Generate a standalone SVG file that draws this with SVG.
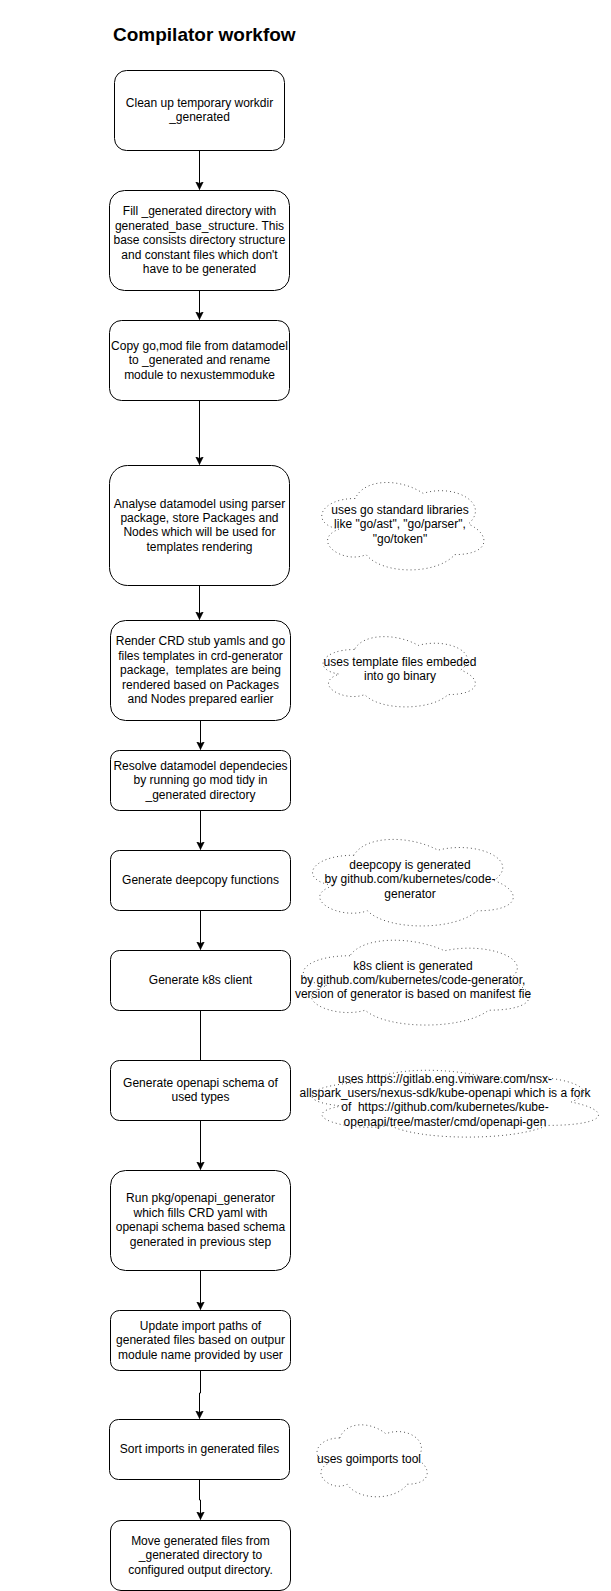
<svg xmlns="http://www.w3.org/2000/svg" width="611" height="1591" viewBox="0 0 611 1591">
<style>
.box{fill:#fff;stroke:#000;stroke-width:1}
.cloud{fill:#fff;stroke:#555;stroke-width:1;stroke-dasharray:1 3}
.t{font-family:"Liberation Sans",Arial,sans-serif;font-size:12px;fill:#000;text-anchor:middle;white-space:pre}
.title{font-family:"Liberation Sans",Arial,sans-serif;font-size:19px;font-weight:bold;fill:#000}
.edge{fill:none;stroke:#000;stroke-width:1}
</style>
<defs>
<marker id="arr" markerUnits="userSpaceOnUse" markerWidth="10" markerHeight="10" refX="8" refY="4" orient="auto">
<path d="M0,0 L8,4 L0,8 L2,4 Z" fill="#000" stroke="#000" stroke-width="0.5"/>
</marker>
</defs>
<rect width="611" height="1591" fill="#fff"/>
<text class="title" x="113" y="41">Compilator workfow</text>

<g id="edges">
<path class="edge" d="M199.5,150.5 V189.5" marker-end="url(#arr)"/>
<path class="edge" d="M199.5,290.5 V319.5" marker-end="url(#arr)"/>
<path class="edge" d="M199.5,400.5 V464.5" marker-end="url(#arr)"/>
<path class="edge" d="M199.5,585.5 V619.5" marker-end="url(#arr)"/>
<path class="edge" d="M200.5,720.5 V749.5" marker-end="url(#arr)"/>
<path class="edge" d="M200.5,810.5 V849.5" marker-end="url(#arr)"/>
<path class="edge" d="M200.5,910.5 V949.5" marker-end="url(#arr)"/>
<path class="edge" d="M200.5,1010.5 V1060.5"/>
<path class="edge" d="M200.5,1120.5 V1169.5" marker-end="url(#arr)"/>
<path class="edge" d="M200.5,1270.5 V1309.5" marker-end="url(#arr)"/>
<path class="edge" d="M200.5,1370.5 V1393 H199.5 V1418.5" marker-end="url(#arr)"/>
<path class="edge" d="M199.5,1479.5 V1500 H200.5 V1519.5" marker-end="url(#arr)"/>
</g>

<g id="n1"><rect class="box" x="114.5" y="70.5" width="170" height="80" rx="12"/>
<text class="t" x="199.5" y="107">Clean up temporary workdir<tspan x="199.5" dy="14.4">_generated</tspan></text></g>

<g id="n2"><rect class="box" x="109.5" y="190.5" width="180" height="100" rx="15"/>
<text class="t" x="199.5" y="215.4">Fill _generated directory with<tspan x="199.5" dy="14.4">generated_base_structure. This</tspan><tspan x="199.5" dy="14.4">base consists directory structure</tspan><tspan x="199.5" dy="14.4">and constant files which don't</tspan><tspan x="199.5" dy="14.4">have to be generated</tspan></text></g>

<g id="n3"><rect class="box" x="109.5" y="320.5" width="180" height="80" rx="12"/>
<text class="t" x="199.5" y="349.8">Copy go,mod file from datamodel<tspan x="199.5" dy="14.4">to _generated and rename</tspan><tspan x="199.5" dy="14.4">module to nexustemmoduke</tspan></text></g>

<g id="n4"><rect class="box" x="109.5" y="465.5" width="180" height="120" rx="18"/>
<text class="t" x="199.5" y="507.6">Analyse datamodel using parser<tspan x="199.5" dy="14.4">package, store Packages and</tspan><tspan x="199.5" dy="14.4">Nodes which will be used for</tspan><tspan x="199.5" dy="14.4">templates rendering</tspan></text></g>

<g id="n5"><rect class="box" x="110.5" y="620.5" width="180" height="100" rx="15"/>
<text class="t" x="200.5" y="645.4">Render CRD stub yamls and go<tspan x="200.5" dy="14.4">files templates in crd-generator</tspan><tspan x="200.5" dy="14.4">package,  templates are being</tspan><tspan x="200.5" dy="14.4">rendered based on Packages</tspan><tspan x="200.5" dy="14.4">and Nodes prepared earlier</tspan></text></g>

<g id="n6"><rect class="box" x="110.5" y="750.5" width="180" height="60" rx="9"/>
<text class="t" x="200.5" y="769.8">Resolve datamodel dependecies<tspan x="200.5" dy="14.4">by running go mod tidy in</tspan><tspan x="200.5" dy="14.4">_generated directory</tspan></text></g>

<g id="n7"><rect class="box" x="110.5" y="850.5" width="180" height="60" rx="9"/>
<text class="t" x="200.5" y="884">Generate deepcopy functions</text></g>

<g id="n8"><rect class="box" x="110.5" y="950.5" width="180" height="60" rx="9"/>
<text class="t" x="200.5" y="984">Generate k8s client</text></g>

<g id="n9"><rect class="box" x="110.5" y="1060.5" width="180" height="60" rx="9"/>
<text class="t" x="200.5" y="1087">Generate openapi schema of<tspan x="200.5" dy="14.4">used types</tspan></text></g>

<g id="n10"><rect class="box" x="110.5" y="1170.5" width="180" height="100" rx="15"/>
<text class="t" x="200.5" y="1202.4">Run pkg/openapi_generator<tspan x="200.5" dy="14.4">which fills CRD yaml with</tspan><tspan x="200.5" dy="14.4">openapi schema based schema</tspan><tspan x="200.5" dy="14.4">generated in previous step</tspan></text></g>

<g id="n11"><rect class="box" x="110.5" y="1310.5" width="180" height="60" rx="9"/>
<text class="t" x="200.5" y="1329.8">Update import paths of<tspan x="200.5" dy="14.4">generated files based on outpur</tspan><tspan x="200.5" dy="14.4">module name provided by user</tspan></text></g>

<g id="n12"><rect class="box" x="109.5" y="1419.5" width="180" height="60" rx="9"/>
<text class="t" x="199.5" y="1453">Sort imports in generated files</text></g>

<g id="n13"><rect class="box" x="110.5" y="1520.5" width="180" height="70" rx="10.5"/>
<text class="t" x="200.5" y="1544.8">Move generated files from<tspan x="200.5" dy="14.4">_generated directory to</tspan><tspan x="200.5" dy="14.4">configured output directory.</tspan></text></g>

<g id="c1"><path class="cloud" d="M355.25,498.5 C319.05,498.5 310,524 338.96,529.1 C310,540.32 342.58,564.8 366.11,554.6 C382.4,575 436.7,575 454.8,554.6 C491,554.6 491,534.2 468.38,524 C491,503.6 454.8,483.2 423.13,493.4 C400.5,478.1 364.3,478.1 355.25,498.5 Z"/>
<text class="t" x="400" y="514">uses go standard libraries<tspan x="400" dy="14.4">like "go/ast", "go/parser",</tspan><tspan x="400" dy="14.4">"go/token"</tspan></text></g>

<g id="c2"><path class="cloud" d="M354.5,649.5 C320.5,649.5 312,670 339.2,674.1 C312,683.12 342.6,702.8 364.7,694.6 C380,711 431,711 448,694.6 C482,694.6 482,678.2 460.75,670 C482,653.6 448,637.2 418.25,645.4 C397,633.1 363,633.1 354.5,649.5 Z"/>
<text class="t" x="400" y="666">uses template files embeded<tspan x="400" dy="14.4">into go binary</tspan></text></g>

<g id="c3"><path class="cloud" d="M354,855.25 C309.2,855.25 298,880.5 333.84,885.55 C298,896.66 338.32,920.9 367.44,910.8 C387.6,931 454.8,931 477.2,910.8 C522,910.8 522,890.6 494,880.5 C522,860.3 477.2,840.1 438,850.2 C410,835.05 365.2,835.05 354,855.25 Z"/>
<text class="t" x="410" y="869">deepcopy is generated<tspan x="410" dy="14.4">by github.com/kubernetes/code-</tspan><tspan x="410" dy="14.4">generator</tspan></text></g>

<g id="c4"><path class="cloud" d="M350,955.75 C299.6,955.75 287,980.5 327.32,985.45 C287,996.34 332.36,1020.1 365.12,1010.2 C387.8,1030 463.4,1030 488.6,1010.2 C539,1010.2 539,990.4 507.5,980.5 C539,960.7 488.6,940.9 444.5,950.8 C413,935.95 362.6,935.95 350,955.75 Z"/>
<text class="t" x="413" y="969.5">k8s client is generated<tspan x="413" dy="14.4">by github.com/kubernetes/code-generator,</tspan><tspan x="413" dy="14.4">version of generator is based on manifest fie</tspan></text></g>

<g id="c5"><path class="cloud" d="M371,1082.5 C307,1082.5 291,1102 342.2,1105.9 C291,1114.48 348.6,1133.2 390.2,1125.4 C419,1141 515,1141 547,1125.4 C611,1125.4 611,1109.8 571,1102 C611,1086.4 547,1070.8 491,1078.6 C451,1066.9 387,1066.9 371,1082.5 Z"/>
<text class="t" x="445" y="1082.5">uses https://gitlab.eng.vmware.com/nsx-<tspan x="445" dy="14.4">allspark_users/nexus-sdk/kube-openapi which is a fork</tspan><tspan x="445" dy="14.4">of  https://github.com/kubernetes/kube-</tspan><tspan x="445" dy="14.4">openapi/tree/master/cmd/openapi-gen</tspan></text></g>

<g id="c6"><path class="cloud" d="M339.75,1438 C315.15,1438 309,1459 328.68,1463.2 C309,1472.44 331.14,1492.6 347.13,1484.2 C358.2,1501 395.1,1501 407.4,1484.2 C432,1484.2 432,1467.4 416.63,1459 C432,1442.2 407.4,1425.4 385.88,1433.8 C370.5,1421.2 345.9,1421.2 339.75,1438 Z"/>
<text class="t" x="369" y="1462.7">uses goimports tool</text></g>
</svg>
